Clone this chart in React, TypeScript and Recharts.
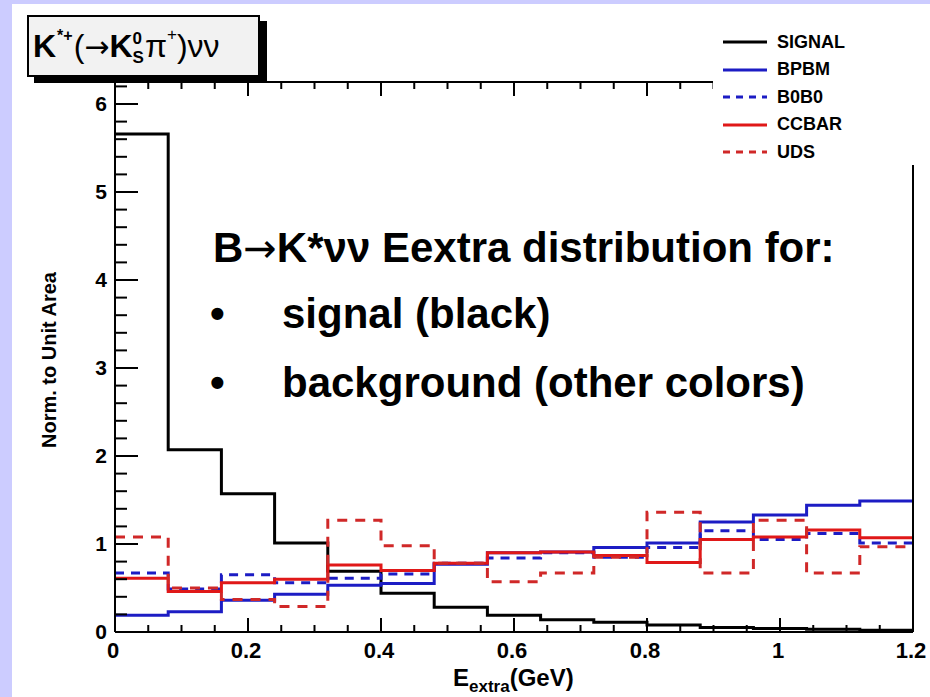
import React from 'react';
import { LineChart, Line, XAxis, YAxis, Legend } from 'recharts';

// bin edges of the Eextra histogram (GeV), 15 bins of 0.08
const binEdges = [0, 0.08, 0.16, 0.24, 0.32, 0.4, 0.48, 0.56, 0.64, 0.72, 0.8, 0.88, 0.96, 1.04, 1.12, 1.2];

// bin contents, normalised to unit area
const signal = [5.66, 2.07, 1.57, 1.01, 0.69, 0.44, 0.28, 0.19, 0.14, 0.11, 0.08, 0.05, 0.04, 0.03, 0.02];
const bpbm = [0.19, 0.23, 0.36, 0.43, 0.53, 0.55, 0.77, 0.9, 0.91, 0.96, 1.01, 1.25, 1.33, 1.44, 1.49];
const b0b0 = [0.67, 0.49, 0.65, 0.56, 0.61, 0.66, 0.78, 0.84, 0.9, 0.85, 0.96, 1.15, 1.05, 1.12, 1.01];
const ccbar = [0.61, 0.46, 0.56, 0.6, 0.76, 0.7, 0.78, 0.9, 0.91, 0.87, 0.79, 1.05, 1.08, 1.16, 1.07];
const uds = [1.08, 0.5, 0.37, 0.29, 1.27, 0.98, 0.78, 0.57, 0.67, 0.85, 1.36, 0.67, 1.27, 0.67, 0.97];

// axis ticks
const xMajor = [0, 0.2, 0.4, 0.6, 0.8, 1, 1.2];
const xMinor = [0.05, 0.1, 0.15, 0.25, 0.3, 0.35, 0.45, 0.5, 0.55, 0.65, 0.7, 0.75, 0.85, 0.9, 0.95, 1.05, 1.1, 1.15];
const yMajor = [0, 1, 2, 3, 4, 5, 6];
const yMinor = [0.2, 0.4, 0.6, 0.8, 1.2, 1.4, 1.6, 1.8, 2.2, 2.4, 2.6, 2.8, 3.2, 3.4, 3.6, 3.8, 4.2, 4.4, 4.6, 4.8, 5.2, 5.4, 5.6, 5.8, 6.2];

const series = [
  { key: 'signal', name: 'SIGNAL', values: signal, color: '#000000', dash: undefined },
  { key: 'bpbm', name: 'BPBM', values: bpbm, color: '#1c1cc4', dash: undefined },
  { key: 'b0b0', name: 'B0B0', values: b0b0, color: '#1c1cc4', dash: '9 7' },
  { key: 'ccbar', name: 'CCBAR', values: ccbar, color: '#e01818', dash: undefined },
  { key: 'uds', name: 'UDS', values: uds, color: '#d02828', dash: '10 8' },
];

// step table: one row per bin edge, last bin repeated at the upper edge
const data = binEdges.map((x, i) => {
  const row: Record<string, number> = { x };
  series.forEach((s) => {
    row[s.key] = s.values[Math.min(i, s.values.length - 1)];
  });
  return row;
});

const font = '"Liberation Sans", Arial, Helvetica, sans-serif';
const symbolFont = '"DejaVu Sans", sans-serif';

const BottomTick = (props: any) => {
  const { x, y, payload } = props;
  const major = xMajor.includes(payload.value);
  return (
    <g>
      <line x1={x} x2={x} y1={y} y2={y - (major ? 14 : 7)} stroke="#000" strokeWidth={2} />
      {major && (
        <text x={x - 2} y={y + 26} textAnchor="middle" fontFamily={font} fontWeight="bold" fontSize={22} fill="#000">
          {String(payload.value)}
        </text>
      )}
    </g>
  );
};

const TopTick = (props: any) => {
  const { x, y, payload } = props;
  const major = xMajor.includes(payload.value);
  return <line x1={x} x2={x} y1={y} y2={y + (major ? 14 : 7)} stroke="#000" strokeWidth={2} />;
};

const LeftTick = (props: any) => {
  const { x, y, payload } = props;
  const major = yMajor.includes(payload.value);
  return (
    <g>
      <line x1={x} x2={x + (major ? 23 : 12)} y1={y} y2={y} stroke="#000" strokeWidth={2} />
      {major && (
        <text x={x - 8} y={y + 7} textAnchor="end" fontFamily={font} fontWeight="bold" fontSize={21} fill="#000">
          {String(payload.value)}
        </text>
      )}
    </g>
  );
};

const RightTick = (props: any) => {
  const { x, y, payload } = props;
  const major = yMajor.includes(payload.value);
  return <line x1={x} x2={x - (major ? 23 : 12)} y1={y} y2={y} stroke="#000" strokeWidth={2} />;
};

const LegendBox = () => (
  <div style={{ background: '#fff', width: 212, height: 145, position: 'relative' }}>
    {series.map((s, i) => (
      <div key={s.key} style={{ position: 'absolute', left: 10, top: 22 + i * 27.5 - 11, height: 22, display: 'flex', alignItems: 'center' }}>
        <svg width={44} height={6} style={{ display: 'block' }}>
          <line x1={0} x2={44} y1={3} y2={3} stroke={s.color} strokeWidth={3} strokeDasharray={s.dash ? '7 6' : undefined} />
        </svg>
        <span style={{ marginLeft: 10, fontFamily: font, fontWeight: 'bold', fontSize: 18, color: '#000' }}>{s.name}</span>
      </div>
    ))}
  </div>
);

export default function App() {
  const allX = [...xMajor, ...xMinor];
  const allY = [...yMajor, ...yMinor];
  return (
    <div style={{ position: 'relative', width: 930, height: 697, background: '#ccccff', overflow: 'hidden' }}>
      <style>{'body{margin:0}'}</style>
      <div style={{ position: 'absolute', left: 12, top: 4, right: 0, bottom: 0, background: '#fff' }} />
      <div style={{ position: 'absolute', left: 0, top: 0 }}>
        <LineChart width={930} height={697} data={data} margin={{ top: 72, right: 7, bottom: 25, left: 55 }}>
          <XAxis
            xAxisId={0}
            type="number"
            dataKey="x"
            domain={[0, 1.2]}
            ticks={allX}
            interval={0}
            height={40}
            tickSize={0}
            tickMargin={0}
            tick={BottomTick}
            axisLine={{ stroke: '#000', strokeWidth: 2 }}
            tickLine={false}
          />
          <XAxis
            xAxisId="top"
            orientation="top"
            type="number"
            dataKey="x"
            domain={[0, 1.2]}
            ticks={allX}
            interval={0}
            height={10}
            tickSize={0}
            tickMargin={0}
            tick={TopTick}
            axisLine={{ stroke: '#000', strokeWidth: 2 }}
            tickLine={false}
          />
          <YAxis
            yAxisId={0}
            type="number"
            domain={[0, 6.25]}
            ticks={allY}
            interval={0}
            width={60}
            tickSize={0}
            tickMargin={0}
            tick={LeftTick}
            axisLine={{ stroke: '#000', strokeWidth: 2 }}
            tickLine={false}
            allowDataOverflow
          />
          <YAxis
            yAxisId="right"
            orientation="right"
            type="number"
            domain={[0, 6.25]}
            ticks={allY}
            interval={0}
            width={10}
            tickSize={0}
            tickMargin={0}
            tick={RightTick}
            axisLine={{ stroke: '#000', strokeWidth: 2 }}
            tickLine={false}
          />
          {series.map((s) => (
            <Line
              key={s.key}
              xAxisId={0}
              yAxisId={0}
              type="stepAfter"
              dataKey={s.key}
              name={s.name}
              stroke={s.color}
              strokeWidth={3}
              strokeDasharray={s.dash}
              dot={false}
              activeDot={false}
              isAnimationActive={false}
            />
          ))}
          <Legend
            layout="horizontal"
            verticalAlign="middle"
            align="center"
            content={() => <LegendBox />}
            wrapperStyle={{ position: 'absolute', left: 713, top: 20, width: 212, height: 145 }}
          />
        </LineChart>
      </div>

      {/* title box */}
      <div
        style={{
          position: 'absolute',
          left: 27,
          top: 15,
          width: 233,
          height: 62,
          boxSizing: 'border-box',
          border: '2px solid #000',
          background: '#f2f2f2',
          boxShadow: '7px 6px 0 #000',
          fontFamily: font,
          fontSize: 32,
          display: 'flex',
          alignItems: 'center',
          paddingLeft: 4,
          whiteSpace: 'nowrap',
        }}
      >
        <span style={{ fontWeight: 'bold' }}>K</span>
        <span style={{ fontSize: 16, fontWeight: 'bold', position: 'relative', top: -10, marginLeft: 1 }}>*+</span>
        <span style={{ marginLeft: 1 }}>(</span>
        <span style={{ fontFamily: symbolFont, fontSize: 30 }}>→</span>
        <span style={{ fontWeight: 'bold' }}>K</span>
        <span style={{ display: 'inline-flex', flexDirection: 'column', fontSize: 17, fontWeight: 'bold', lineHeight: '19px', marginRight: 1, marginTop: 4 }}>
          <span>0</span>
          <span>S</span>
        </span>
        <span>π</span>
        <span style={{ fontSize: 17, position: 'relative', top: -11 }}>+</span>
        <span>)νν</span>
      </div>

      {/* axis titles and annotation */}
      <svg width={930} height={697} style={{ position: 'absolute', left: 0, top: 0, pointerEvents: 'none' }}>
        <text
          x={0}
          y={0}
          transform="translate(56 360) rotate(-90)"
          textAnchor="middle"
          fontFamily={font}
          fontWeight="bold"
          fontSize={20}
          fill="#000"
        >
          Norm. to Unit Area
        </text>
        <text x={453} y={686} fontFamily={font} fontWeight="bold" fontSize={24} fill="#000">
          E
          <tspan fontSize={17} dy={6}>extra</tspan>
          <tspan fontSize={24} dy={-6}>(GeV)</tspan>
        </text>
        <g fontFamily={font} fontWeight="bold" fontSize={42} fill="#000">
          <text x={213} y={262}>
            B<tspan fontFamily={symbolFont} fontWeight="normal" fontSize={40}>→</tspan>K*νν Eextra distribution for:
          </text>
          <text x={210} y={328}>•</text>
          <text x={282} y={328}>signal (black)</text>
          <text x={210} y={397}>•</text>
          <text x={282} y={397}>background (other colors)</text>
        </g>
      </svg>
    </div>
  );
}
